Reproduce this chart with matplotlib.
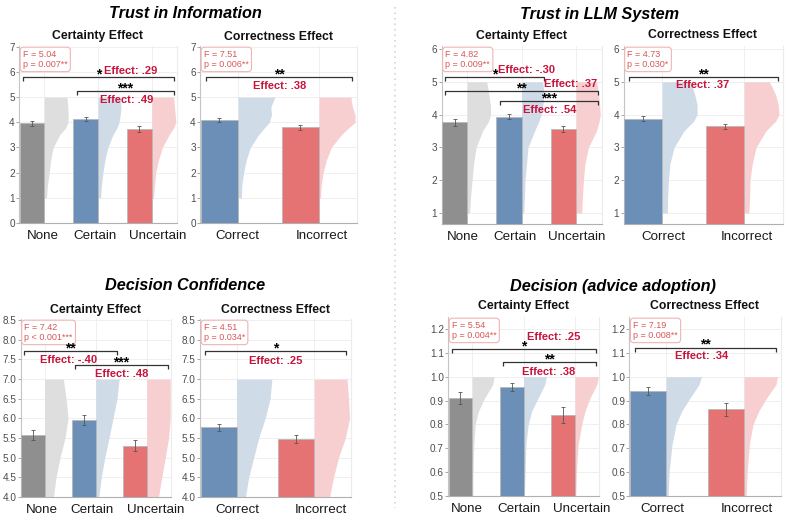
import matplotlib
matplotlib.use("Agg")
import matplotlib.pyplot as plt
from matplotlib.lines import Line2D
from matplotlib.transforms import ScaledTranslation

plt.rcParams['font.family'] = ['Liberation Sans', 'DejaVu Sans']

W, H = 787, 520
fig = plt.figure(figsize=(W / 100, H / 100), dpi=100)

# ----------------------------- DATA -----------------------------
certainty_groups = ["None", "Certain", "Uncertain"]
correctness_groups = ["Correct", "Incorrect"]

# Trust in Information
ti_cert_mean = [3.96, 4.13, 3.74]
ti_cert_se = [0.09, 0.087, 0.11]
ti_corr_mean = [4.09, 3.80]
ti_corr_se = [0.08, 0.087]
# Trust in LLM System
llm_cert_mean = [3.76, 3.94, 3.56]
llm_cert_se = [0.10, 0.075, 0.10]
llm_corr_mean = [3.87, 3.64]
llm_corr_se = [0.075, 0.07]
# Decision Confidence
dc_cert_mean = [5.58, 5.96, 5.31]
dc_cert_se = [0.12, 0.12, 0.14]
dc_corr_mean = [5.77, 5.47]
dc_corr_se = [0.10, 0.106]
# Decision (advice adoption)
da_cert_mean = [0.911, 0.956, 0.839]
da_cert_se = [0.024, 0.017, 0.033]
da_corr_mean = [0.940, 0.863]
da_corr_se = [0.017, 0.026]

# half-violin width profiles (fraction of max width) at given levels
likert5_levels = [1, 1.5, 2, 2.5, 3, 3.5, 3.8, 4.0, 4.3, 4.6, 4.85, 5]
ti_cert_violin = [
    [0.09, 0.13, 0.20, 0.26, 0.36, 0.62, 0.88, 0.96, 0.97, 0.95, 0.93, 0.92],
    [0.10, 0.14, 0.20, 0.28, 0.40, 0.60, 0.78, 0.85, 0.90, 0.93, 0.90, 0.87],
    [0.07, 0.11, 0.16, 0.27, 0.43, 0.70, 0.90, 0.97, 0.95, 0.92, 0.90, 0.88],
]
ti_corr_violin = [
    [0.09, 0.10, 0.15, 0.22, 0.33, 0.55, 0.72, 0.84, 0.90, 0.88, 0.95, 0.99],
    [0.04, 0.06, 0.11, 0.20, 0.33, 0.60, 0.81, 0.97, 0.97, 0.90, 0.87, 0.86],
]
llm_cert_violin = [
    [0.10, 0.14, 0.20, 0.26, 0.36, 0.62, 0.86, 0.94, 0.93, 0.87, 0.82, 0.78],
    [0.09, 0.12, 0.14, 0.20, 0.26, 0.52, 0.70, 0.78, 0.86, 0.90, 0.87, 0.84],
    [0.23, 0.26, 0.30, 0.36, 0.50, 0.82, 0.93, 0.97, 0.95, 0.91, 0.86, 0.82],
]
llm_corr_violin = [
    [0.14, 0.15, 0.17, 0.21, 0.32, 0.58, 0.84, 0.93, 0.93, 0.87, 0.80, 0.75],
    [0.13, 0.15, 0.16, 0.22, 0.32, 0.58, 0.84, 0.93, 0.91, 0.84, 0.74, 0.67],
]
conf_levels = [4.0, 4.5, 5.0, 5.5, 6.0, 6.5, 7.0]
dc_cert_violin = [
    [0.38, 0.49, 0.66, 0.87, 1.00, 0.92, 0.80],
    [0.14, 0.24, 0.39, 0.57, 0.74, 0.91, 1.00],
    [0.50, 0.64, 0.79, 0.93, 1.00, 1.00, 1.00],
]
dc_corr_violin = [
    [0.25, 0.34, 0.48, 0.62, 0.80, 0.94, 0.99],
    [0.43, 0.54, 0.68, 0.87, 0.99, 0.96, 0.92],
]
adopt_levels = [0.5, 0.606, 0.717, 0.8, 0.856, 0.911, 0.967, 1.0]
da_cert_violin = [
    [0.03, 0.04, 0.07, 0.13, 0.27, 0.53, 0.87, 0.93],
    [0.04, 0.07, 0.10, 0.20, 0.35, 0.62, 0.90, 0.97],
    [0.04, 0.07, 0.14, 0.29, 0.43, 0.64, 0.93, 1.00],
]
da_corr_violin = [
    [0.06, 0.09, 0.17, 0.28, 0.44, 0.67, 0.92, 0.99],
    [0.06, 0.09, 0.15, 0.25, 0.41, 0.63, 0.89, 0.93],
]

# ANOVA stats and pairwise comparisons (i, j, stars, effect)
ti_cert_stats = ("5.04", "p = 0.007**")
ti_corr_stats = ("7.51", "p = 0.006**")
llm_cert_stats = ("4.82", "p = 0.009**")
llm_corr_stats = ("4.73", "p = 0.030*")
dc_cert_stats = ("7.42", "p < 0.001***")
dc_corr_stats = ("4.51", "p = 0.034*")
da_cert_stats = ("5.54", "p = 0.004**")
da_corr_stats = ("7.19", "p = 0.008**")

ti_cert_pairs = [(0, 2, "*", ".29"), (1, 2, "***", ".49")]
ti_corr_pairs = [(0, 1, "**", ".38")]
llm_cert_pairs = [(0, 1, "*", "-.30"), (0, 2, "**", ".37"), (1, 2, "***", ".54")]
llm_corr_pairs = [(0, 1, "**", ".37")]
dc_cert_pairs = [(0, 1, "**", "-.40"), (1, 2, "***", ".48")]
dc_corr_pairs = [(0, 1, "*", ".25")]
da_cert_pairs = [(0, 2, "*", ".25"), (1, 2, "**", ".38")]
da_corr_pairs = [(0, 1, "**", ".34")]

# ----------------------------- STYLE -----------------------------
bar_color = {"None": "#8f8f8f", "Certain": "#6b8fb7", "Uncertain": "#e57374",
             "Correct": "#6b8fb7", "Incorrect": "#e57374"}
vio_color = {"None": "#dedede", "Certain": "#d0dbe8", "Uncertain": "#f7cfd0",
             "Correct": "#d0dbe8", "Incorrect": "#f7cfd0"}
F_COLOR = "#d95757"
EFF_COLOR = "#c8143c"
HALF = 0.46


def panel(rect, groups, means, ses, levels, profiles, ylim, yticks, fmt,
          stats, pairs, layout, subtitle, sub_y, label_dx):
    l, t, r, b = rect
    ax = fig.add_axes([l / W, 1 - b / H, (r - l) / W, (b - t) / H])
    n = len(groups)
    ax.set_xlim(-0.47, n - 1 + 0.47)
    ax.set_ylim(*ylim)
    ax.set_axisbelow(True)
    ax.grid(True, color="#efefef", lw=0.7)
    ax.spines["top"].set_visible(False)
    ax.spines["right"].set_color("#ececec")
    ax.spines["left"].set_color("#c4c4c4")
    ax.spines["bottom"].set_color("#b0b0b0")
    for s in ["left", "bottom", "right"]:
        ax.spines[s].set_linewidth(0.8)

    for i, g in enumerate(groups):
        widths = [i + f * HALF for f in profiles[i]]
        ax.fill_betweenx(levels, i, widths, color=vio_color[g], lw=0, zorder=2)
    ax.bar(range(n), means, width=-HALF, align="edge",
           color=[bar_color[g] for g in groups], edgecolor="#b8b8b8",
           linewidth=0.6, zorder=3)
    ax.errorbar([i - HALF / 2 for i in range(n)], means, yerr=ses, fmt="none",
                ecolor="#555555", elinewidth=0.6, capsize=1.6, capthick=0.6, zorder=4)

    ax.set_xticks(range(n))
    ax.set_xticklabels(groups)
    ax.set_yticks(yticks)
    ax.set_yticklabels([fmt.format(v) for v in yticks])
    ax.tick_params(axis="x", length=0, labelsize=9.6, labelcolor="#1a1a1a", pad=5)
    ax.tick_params(axis="y", length=2, width=0.6, color="#999999",
                   labelsize=7.2, labelcolor="#4d4d4d", pad=1)
    for lbl, dx in zip(ax.get_xticklabels(), label_dx):
        lbl.set_transform(lbl.get_transform() +
                          ScaledTranslation(dx / 100, 0, fig.dpi_scale_trans))

    # stats box
    ax.annotate("F = %s\n%s" % stats, xy=(0, 1), xycoords="axes fraction",
                xytext=(2.8, -2.8), textcoords="offset points", ha="left", va="top",
                fontsize=6.5, color=F_COLOR, linespacing=1.15,
                bbox=dict(boxstyle="round,pad=0.3,rounding_size=0.35", fc="white",
                          ec="#f0b4b4", lw=0.8), zorder=6)

    yr = ylim[1] - ylim[0]
    tick_h = 4.0 * yr / (b - t)
    for (i, j, stars, eff), (by, ex, ey) in zip(pairs, layout):
        x1, x2 = i - 0.40, j + 0.41
        ax.plot([x1, x1, x2, x2], [by - tick_h, by, by, by - tick_h],
                color="#333333", lw=0.9, zorder=5, solid_capstyle="butt")
        ax.annotate(stars, xy=((x1 + x2) / 2, by), xytext=(0, -1.0),
                    textcoords="offset points", ha="center", va="baseline",
                    fontsize=10, fontweight="bold", color="black", zorder=6)
        ax.text(ex, ey, "Effect: " + eff, ha="center", va="center", fontsize=8,
                fontweight="bold", color=EFF_COLOR, zorder=6)

    fig.text((l + r) / 2 / W, 1 - sub_y / H, subtitle, ha="center", va="center",
             fontsize=8.8, fontweight="bold", color="#111111")
    return ax


# Trust in Information
panel((19, 46, 177, 223), certainty_groups, ti_cert_mean, ti_cert_se,
      likert5_levels, ti_cert_violin, (0, 7.03), list(range(0, 8)), "{:.0f}",
      ti_cert_stats, ti_cert_pairs, [(5.8, 1.6, 6.03), (5.23, 1.53, 4.89)],
      "Certainty Effect", 36.5, [-1, -3, 6])
panel((200, 46, 357, 223), correctness_groups, ti_corr_mean, ti_corr_se,
      likert5_levels, ti_corr_violin, (0, 7.03), list(range(0, 8)), "{:.0f}",
      ti_corr_stats, ti_corr_pairs, [(5.8, 0.52, 5.45)],
      "Correctness Effect", 36.5, [-1, 3])
# Trust in LLM System
panel((441.5, 46, 601.5, 224), certainty_groups, llm_cert_mean, llm_cert_se,
      likert5_levels, llm_cert_violin, (0.665, 6.09), list(range(1, 7)), "{:.0f}",
      llm_cert_stats, llm_cert_pairs,
      [(5.15, 1.09, 5.37), (4.73, 1.91, 4.92), (4.42, 1.52, 4.14)],
      "Certainty Effect", 35.5, [-4, -7, 1])
panel((623.5, 46, 782.5, 224), correctness_groups, llm_corr_mean, llm_corr_se,
      likert5_levels, llm_corr_violin, (0.665, 6.09), list(range(1, 7)), "{:.0f}",
      llm_corr_stats, llm_corr_pairs, [(5.15, 0.5, 4.9)],
      "Correctness Effect", 35.5, [1, 3])
# Decision Confidence
panel((20.5, 319, 170.7, 497), certainty_groups, dc_cert_mean, dc_cert_se,
      conf_levels, dc_cert_violin, (4.0, 8.53), [4.0 + 0.5 * k for k in range(10)], "{:.1f}",
      dc_cert_stats, dc_cert_pairs, [(7.71, 0.48, 7.48), (7.36, 1.52, 7.14)],
      "Certainty Effect", 310, [-3, -4, 8.5])
panel((200, 319, 350.7, 497), correctness_groups, dc_corr_mean, dc_corr_se,
      conf_levels, dc_corr_violin, (4.0, 8.53), [4.0 + 0.5 * k for k in range(10)], "{:.1f}",
      dc_corr_stats, dc_corr_pairs, [(7.71, 0.51, 7.47)],
      "Correctness Effect", 310, [0.5, 6.5])
# Decision (advice adoption)
panel((448, 317, 599, 496), certainty_groups, da_cert_mean, da_cert_se,
      adopt_levels, da_cert_violin, (0.5, 1.25), [0.5 + 0.1 * k for k in range(8)], "{:.1f}",
      da_cert_stats, da_cert_pairs, [(1.117, 1.59, 1.165), (1.06, 1.49, 1.019)],
      "Certainty Effect", 306, [-5, -4.5, 7])
panel((629.3, 317, 780.7, 496), correctness_groups, da_corr_mean, da_corr_se,
      adopt_levels, da_corr_violin, (0.5, 1.25), [0.5 + 0.1 * k for k in range(8)], "{:.1f}",
      da_corr_stats, da_corr_pairs, [(1.122, 0.46, 1.087)],
      "Correctness Effect", 306, [-3.5, 2.7])

# main titles
for txt, x, y in [("Trust in Information", 185, 14), ("Trust in LLM System", 600, 14),
                  ("Decision Confidence", 185, 286), ("Decision (advice adoption)", 613, 287)]:
    fig.text(x / W, 1 - y / H, txt, ha="center", va="center", fontsize=11.7,
             fontweight="bold", fontstyle="italic", color="black")

# dotted divider
fig.add_artist(Line2D([394.5 / W, 394.5 / W], [1 - 7 / H, 1 - 508 / H],
                      color="#d0d0d0", lw=1.1, linestyle=(0, (1, 2.6))))

fig.savefig("out.png", dpi=100)
